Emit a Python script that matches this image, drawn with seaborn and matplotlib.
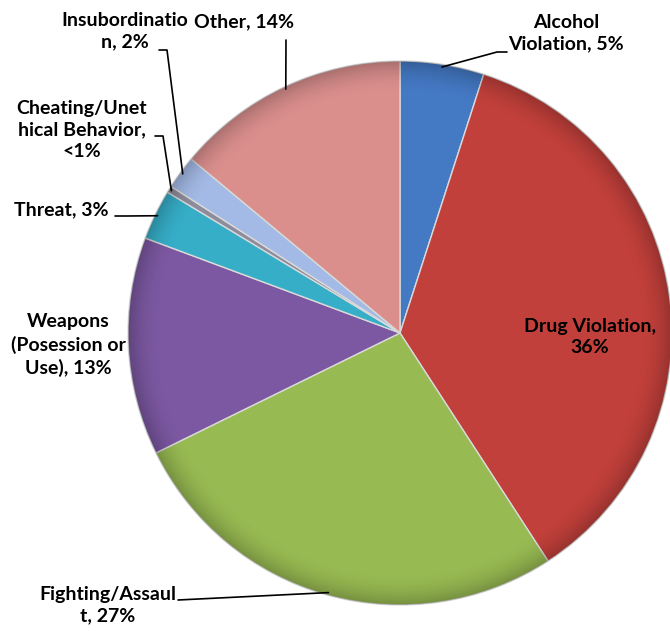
import numpy as np
import matplotlib.pyplot as plt
import seaborn as sns
from matplotlib.patches import Circle

# data
categories = ["Alcohol\nViolation, 5%", "Drug Violation,\n36%", "Fighting/Assaul\nt, 27%",
              "Weapons\n(Posession or\nUse), 13%", "Threat, 3%",
              "Cheating/Unet\nhical Behavior,\n<1%", "Insubordinatio\nn, 2%", "Other, 14%"]
values = [5, 36, 27, 13, 3, 0.4, 2, 14]
colors = ["#4479C4", "#C2403B", "#98BA52", "#7C58A2", "#36AEC8", "#8C8C9C", "#A4BAE6", "#DA8F8D"]

sns.set_theme(style="white")
plt.rcParams['font.family'] = ['Lato', 'DejaVu Sans']

W, H = 670, 631
fig = plt.figure(figsize=(W / 100, H / 100), dpi=100)
ax = fig.add_axes([0, 0, 1, 1])


def px(x, y):
    # pixel position (top-left origin) -> data coords
    return x, H - y


cx, cy = px(400, 333)
R = 272
wedges, _ = ax.pie(values, colors=colors, startangle=90, counterclock=False,
                   center=(cx, cy), radius=R, frame=True,
                   wedgeprops=dict(edgecolor="#d9d9d9", linewidth=1.0))

# soft bevel: darken the rim a little
yy, xx = np.mgrid[-1:1:400j, -1:1:400j]
rr = np.sqrt(xx ** 2 + yy ** 2)
shade = np.zeros((400, 400, 4))
shade[..., 3] = np.clip((rr - 0.88) / 0.12, 0, 1) ** 2 * 0.22
im = ax.imshow(shade, extent=(cx - R, cx + R, cy - R, cy + R), zorder=3)
im.set_clip_path(Circle((cx, cy), R, transform=ax.transData))

ax.set_xlim(0, W)
ax.set_ylim(0, H)
ax.set_aspect('equal')
ax.axis('off')

# label position (text centre) and elbow of the leader line, None = no leader
label_pos = [(566, 33), (590, 337), (108, 605), (68, 345), (61, 210),
             (82, 130), (125, 31), (244, 22)]
elbows = [[(497, 52), (507, 52)], None, [(178, 600)], None, [(127, 216), (115, 216)],
          [(163, 136), (155, 136)], [(167, 50), (159, 50)], [(286, 40)]]

for w, lab, pos, elb in zip(wedges, categories, label_pos, elbows):
    ax.text(*px(*pos), lab, ha="center", va="center", fontsize=14,
            fontweight="bold", color="black", linespacing=1.35, zorder=5)
    if elb is None:
        continue
    mid = np.deg2rad((w.theta1 + w.theta2) / 2)
    ax_pt = (cx + R * 0.99 * np.cos(mid), cy + R * 0.99 * np.sin(mid))
    pts = [ax_pt] + [px(*p) for p in elb]
    xs, ys = zip(*pts)
    ax.plot(xs, ys, color="black", lw=1.2, zorder=5)

fig.savefig("out.png", dpi=100)
